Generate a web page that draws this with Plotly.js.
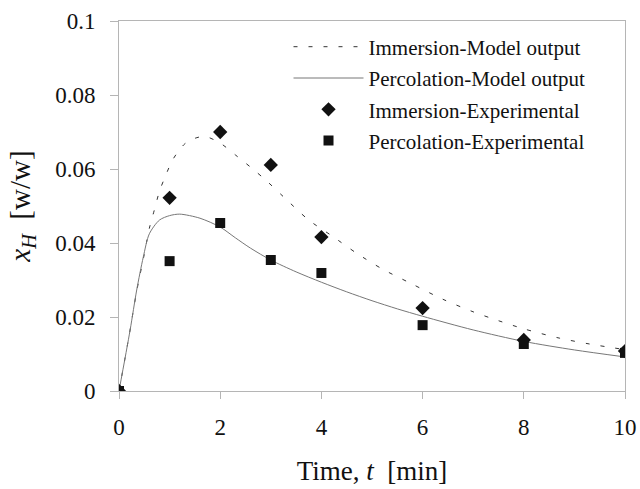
<!DOCTYPE html>
<html>
<head>
<meta charset="utf-8">
<script src="https://cdn.plot.ly/plotly-3.0.1.min.js"></script>
<style>html,body{margin:0;padding:0;background:#fff;}#chart{width:640px;height:489px;}</style>
</head>
<body>
<div id="chart"></div>
<script>
// Model curves
const immModelT = [0, 0.2, 0.35, 0.5, 0.6, 0.7, 0.8, 0.9, 1.07, 1.3, 1.5, 1.7, 2.0, 2.3, 2.6, 2.9, 3.25, 3.75, 4.2, 4.7, 5.2, 5.75, 6.4, 7.0, 7.5, 8.0, 8.7, 9.3, 9.8, 10];
const immModelY = [0, 0.015, 0.027, 0.037, 0.044, 0.049, 0.054, 0.0575, 0.0627, 0.0668, 0.0683, 0.0688, 0.067, 0.0638, 0.0605, 0.057, 0.0525, 0.0462, 0.042, 0.0372, 0.033, 0.0292, 0.0248, 0.0214, 0.019, 0.0168, 0.0143, 0.0127, 0.0116, 0.0112];
const percModelT = [0, 0.22, 0.35, 0.48, 0.6, 0.8, 1.0, 1.2, 1.6, 2.0, 2.3, 2.6, 3.0, 3.5, 4.0, 4.5, 5.0, 5.5, 6.0, 7.0, 8.0, 9.0, 10];
const percModelY = [0, 0.0165, 0.0273, 0.0362, 0.0425, 0.0462, 0.0474, 0.0478, 0.0467, 0.0443, 0.0414, 0.0386, 0.0354, 0.0322, 0.0294, 0.0268, 0.0244, 0.0222, 0.0202, 0.0165, 0.0134, 0.0111, 0.0092];
// Experimental points
const expT = [0, 1, 2, 3, 4, 6, 8, 10];
const immExpY = [0, 0.0522, 0.0700, 0.0611, 0.0416, 0.0224, 0.0138, 0.0108];
const percExpY = [0, 0.0351, 0.0454, 0.0354, 0.0319, 0.0178, 0.0127, 0.0103];
const legendNames = ["Immersion-Model output", "Percolation-Model output", "Immersion-Experimental", "Percolation-Experimental"];

const SERIF = '"Liberation Serif", "Times New Roman", serif';

const traces = [
  {x: immModelT, y: immModelY, mode: 'lines', name: legendNames[0], legendgroup: 'a',
   line: {color: '#333', width: 1, dash: '4px,11px', shape: 'spline', smoothing: 0.8}},
  {x: percModelT, y: percModelY, mode: 'lines', name: legendNames[1], legendgroup: 'b',
   line: {color: '#777', width: 1, shape: 'spline', smoothing: 0.8}},
  {x: expT, y: immExpY, mode: 'markers', name: legendNames[2], legendgroup: 'c',
   marker: {symbol: 'diamond', size: 11, color: '#111'}},
  {x: expT, y: percExpY, mode: 'markers', name: legendNames[3], legendgroup: 'd',
   marker: {symbol: 'square', size: 10, color: '#111'}}
];

const layout = {
  width: 640, height: 489,
  margin: {l: 119, r: 15, t: 21, b: 98},
  paper_bgcolor: '#fff', plot_bgcolor: '#fff',
  font: {family: SERIF, color: '#111'},
  showlegend: true,
  legend: {x: 0.335, y: 0.985, xanchor: 'left', yanchor: 'top', bgcolor: 'rgba(0,0,0,0)',
           font: {size: 21, family: SERIF, color: '#111'},
           traceorder: 'grouped', tracegroupgap: 1, itemwidth: 70},
  xaxis: {range: [0, 10], dtick: 2, tick0: 0, showgrid: false, zeroline: false,
          showline: true, linecolor: '#b5b5b5', linewidth: 1, mirror: true,
          ticks: 'outside', ticklen: 7, tickcolor: '#b5b5b5', ticklabelstandoff: 8,
          tickfont: {size: 23, family: SERIF, color: '#111'},
          title: {text: 'Time, <i>t</i>  [min]', font: {size: 27, family: SERIF, color: '#111'}, standoff: 22}},
  yaxis: {range: [0, 0.1], dtick: 0.02, tick0: 0, showgrid: false, zeroline: false,
          showline: true, linecolor: '#b5b5b5', linewidth: 1, mirror: true,
          ticks: 'outside', ticklen: 8, tickcolor: '#b5b5b5', ticklabelstandoff: 10,
          tickfont: {size: 23, family: SERIF, color: '#111'},
          title: {text: '<i>x<sub>H</sub></i>  [w/w]', font: {size: 29, family: SERIF, color: '#111'}, standoff: 16}}
};

Plotly.newPlot('chart', traces, layout, {displayModeBar: false, staticPlot: true});
</script>
</body>
</html>
